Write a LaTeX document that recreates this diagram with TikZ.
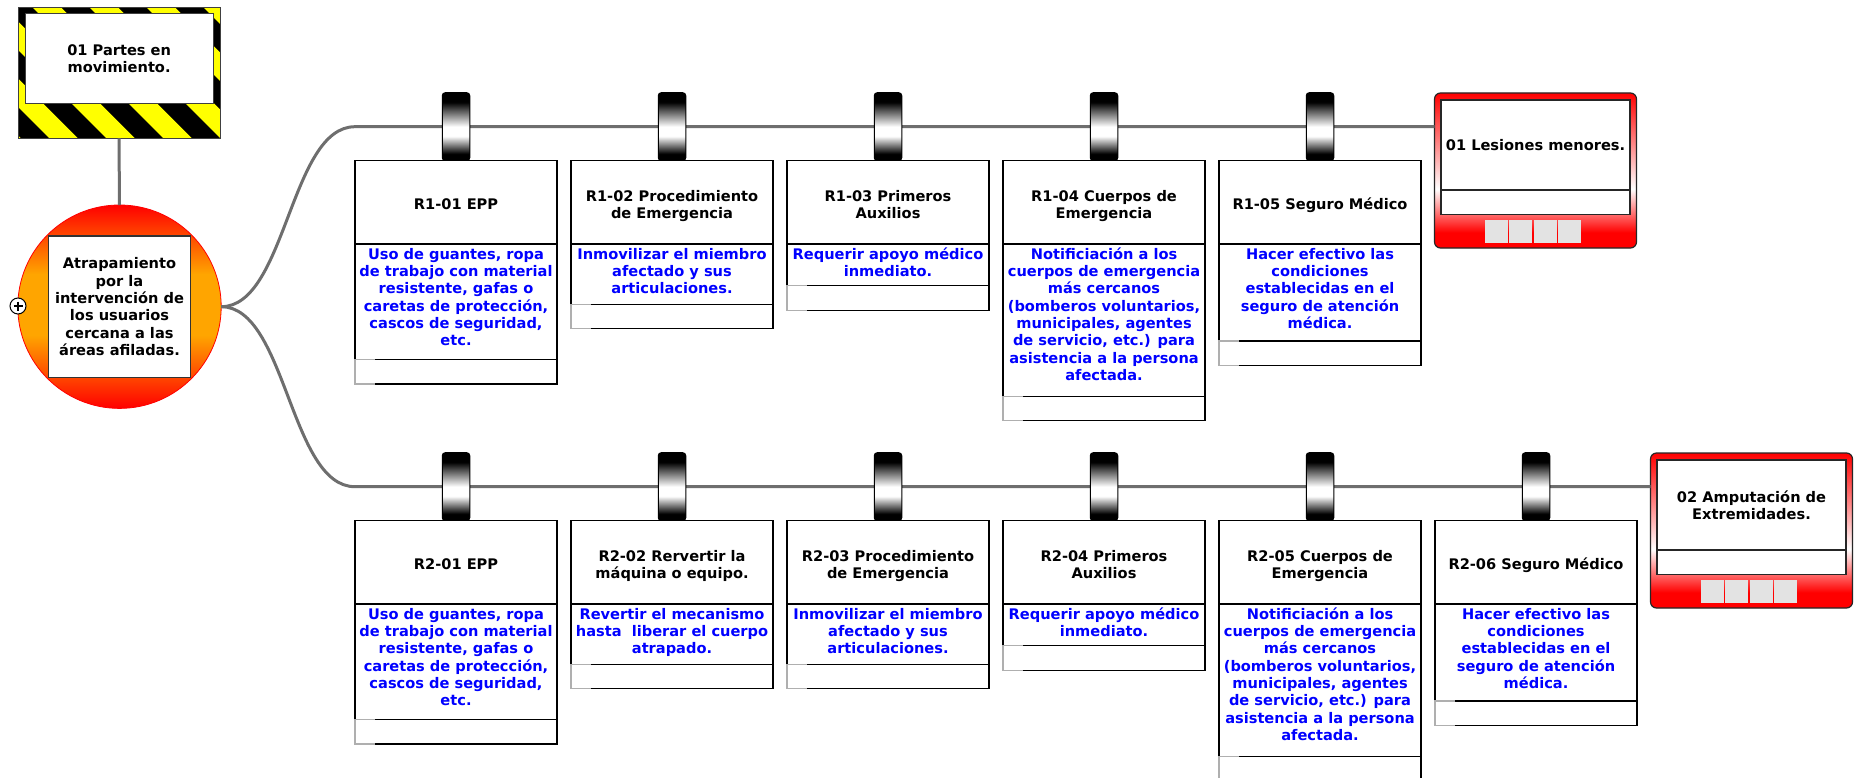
\documentclass[tikz,border=0pt]{standalone}
\usepackage{fontspec}
\setmainfont{DejaVu Sans}
\usetikzlibrary{calc}

\definecolor{linkgray}{RGB}{110,110,110}
\definecolor{hubor}{RGB}{255,165,0}
\definecolor{hazard}{RGB}{255,255,0}
\definecolor{descblue}{RGB}{0,0,255}
\definecolor{tilegray}{RGB}{227,227,227}
\definecolor{edgegray}{RGB}{175,175,175}

% vertical shadings (0bp = bottom, the path spans 25bp..75bp)
\pgfdeclareverticalshading{hubshade}{100bp}{color(0bp)=(red); color(25bp)=(red); color(43bp)=(hubor); color(58bp)=(hubor); color(75bp)=(red); color(100bp)=(red)}
\pgfdeclareverticalshading{resshade}{100bp}{color(0bp)=(red); color(25bp)=(red); color(30bp)=(red); color(44bp)=(white); color(75bp)=(red); color(100bp)=(red)}
\pgfdeclareverticalshading{clipshade}{100bp}{color(0bp)=(black); color(25bp)=(black); color(30bp)=(black); color(43bp)=(white); color(50bp)=(white); color(68bp)=(black); color(75bp)=(black); color(100bp)=(black)}

\tikzset{
  txt/.style={font=\fontsize{14.6}{17.3}\selectfont\bfseries, align=center},
  link/.style={draw=linkgray, line width=3pt},
  cell/.style={draw=black, line width=1.2pt, fill=white, minimum width=202pt,
    inner sep=0pt, outer sep=0pt, anchor=north west},
  titlecell/.style={cell, txt, minimum height=83.3pt},
  stripcell/.style={cell, minimum height=24.5pt},
  desctext/.style={txt, text=descblue, inner sep=0pt, anchor=north},
  hanger/.style={draw=black, line width=1pt, rounded corners=3pt, shading=clipshade,
    minimum width=27.5pt, minimum height=68pt, inner sep=0pt, outer sep=0pt},
  resbox/.style={anchor=north west, minimum width=202pt, minimum height=155pt,
    rounded corners=6pt, draw=black!85, line width=1.2pt, shading=resshade,
    inner sep=0pt, outer sep=0pt},
  resin/.style={anchor=north west, minimum width=189pt, draw=black!85,
    line width=1.2pt, fill=white, inner sep=0pt, outer sep=0pt},
}

% risk card: name, left x, top y, description height, title, description
\newcommand\riskbox[6]{%
  \node[hanger] (#1C) at (#2+101,#3-34) {};
  \node[titlecell] (#1T) at (#2,#3) {\rule{0pt}{19pt}#5\rule[-4pt]{0pt}{4pt}};
  \node[cell, minimum height=#4pt] (#1D) at (#1T.south west) {};
  \node[desctext] (#1d) at (#1D.north) {\rule{0pt}{15pt}#6};
  \node[stripcell] (#1S) at (#1D.south west) {};
  \draw[draw=edgegray, line width=1.2pt] ($(#1S.north west)+(20,0)$) -- (#1S.north west)
    -- (#1S.south west) -- ($(#1S.south west)+(20,0)$);
}

% consequence card: name, left x, top y, text
\newcommand\resultbox[4]{%
  \node[resbox] (#1) at (#2,#3) {};
  \node[resin, txt, minimum height=90pt] (#1T) at ($(#1.north west)+(6.5,7)$) {#4};
  \node[resin, minimum height=24.5pt] (#1L) at (#1T.south west) {};
  \foreach \i in {0,...,3} {
    \fill[tilegray] ($(#1.north)+(-50.5+24.25*\i,127)$) rectangle +(23,23);
  }
}

\begin{document}
\begin{tikzpicture}[x=1pt,y=-1pt]
\useasboundingbox[fill=white] (0,0) rectangle (1859,778);

% hazard sign
\node[anchor=north west, fill=black, minimum width=202pt, minimum height=131pt,
  inner sep=0pt, outer sep=0pt] (sign) at (18,7.3) {};
\begin{scope}
  \clip (sign.north west) rectangle (sign.south east);
  \foreach \k in {-2,...,5} {
    \fill[hazard] (-32+57*\k,0) -- (-3.5+57*\k,0) -- (146.5+57*\k,150) -- (118+57*\k,150) -- cycle;
  }
\end{scope}
\draw[black!75, line width=1pt] (sign.north west) rectangle (sign.south east);
\node[anchor=north west, fill=white, draw=black!75, line width=1pt, minimum width=188.3pt,
  minimum height=90pt, inner sep=0pt, outer sep=0pt, txt] (signT) at (25,14)
  {01 Partes en\\movimiento.};

% central hazard
\node[circle, draw=red, line width=0.8pt, shading=hubshade, minimum size=203.4pt,
  inner sep=0pt, outer sep=0pt] (hub) at (119.5,306.7) {};
\draw[link] (sign.south) -- (hub.north);
\node[draw=black!80, line width=1.5pt, fill=white, minimum width=142.4pt,
  minimum height=141.7pt, inner sep=0pt, txt] (hubT) at (hub.center)
  {Atrapamiento\\por la\\intervención de\\los usuarios\\cercana a las\\áreas afiladas.};
\node[circle, draw=black, fill=white, line width=1pt, minimum size=16pt, inner sep=0pt]
  (tog) at (18,306) {};
\draw[line width=1.3pt] ($(tog.center)+(-4.5,0)$) -- ($(tog.center)+(4.5,0)$)
  ($(tog.center)+(0,-4.5)$) -- ($(tog.center)+(0,4.5)$);

% consequences
\resultbox{res1}{1434.5}{93}{01 Lesiones menores.}
\resultbox{res2}{1650.5}{453}{02 Amputación de\\Extremidades.}

% branches
\coordinate (r1s) at (355,126.7);
\coordinate (r2s) at (355,486.7);
\draw[link] (hub.east) .. controls +(65,0) and +(-65,0) .. (r1s) -- (r1s -| res1.west);
\draw[link] (hub.east) .. controls +(65,0) and +(-65,0) .. (r2s) -- (r2s -| res2.west);

% first branch controls
\riskbox{a1}{355}{160.7}{115.4}{R1-01 EPP}
  {Uso de guantes, ropa\\de trabajo con material\\resistente, gafas o\\caretas de protección,\\cascos de seguridad,\\etc.}
\riskbox{a2}{571}{160.7}{60.2}{R1-02 Procedimiento\\de Emergencia}
  {Inmovilizar el miembro\\afectado y sus\\articulaciones.}
\riskbox{a3}{787}{160.7}{41.8}{R1-03 Primeros\\Auxilios}
  {Requerir apoyo médico\\inmediato.}
\riskbox{a4}{1003}{160.7}{152.2}{R1-04 Cuerpos de\\Emergencia}
  {Notificiación a los\\cuerpos de emergencia\\más cercanos\\(bomberos voluntarios,\\municipales, agentes\\de servicio, etc.) para\\asistencia a la persona\\afectada.}
\riskbox{a5}{1219}{160.7}{97}{R1-05 Seguro Médico}
  {Hacer efectivo las\\condiciones\\establecidas en el\\seguro de atención\\médica.}

% second branch controls
\riskbox{b1}{355}{520.7}{115.4}{R2-01 EPP}
  {Uso de guantes, ropa\\de trabajo con material\\resistente, gafas o\\caretas de protección,\\cascos de seguridad,\\etc.}
\riskbox{b2}{571}{520.7}{60.2}{R2-02 Rervertir la\\máquina o equipo.}
  {Revertir el mecanismo\\hasta\ \ liberar el cuerpo\\atrapado.}
\riskbox{b3}{787}{520.7}{60.2}{R2-03 Procedimiento\\de Emergencia}
  {Inmovilizar el miembro\\afectado y sus\\articulaciones.}
\riskbox{b4}{1003}{520.7}{41.8}{R2-04 Primeros\\Auxilios}
  {Requerir apoyo médico\\inmediato.}
\riskbox{b5}{1219}{520.7}{152.2}{R2-05 Cuerpos de\\Emergencia}
  {Notificiación a los\\cuerpos de emergencia\\más cercanos\\(bomberos voluntarios,\\municipales, agentes\\de servicio, etc.) para\\asistencia a la persona\\afectada.}
\riskbox{b6}{1435}{520.7}{97}{R2-06 Seguro Médico}
  {Hacer efectivo las\\condiciones\\establecidas en el\\seguro de atención\\médica.}
\end{tikzpicture}
\end{document}
